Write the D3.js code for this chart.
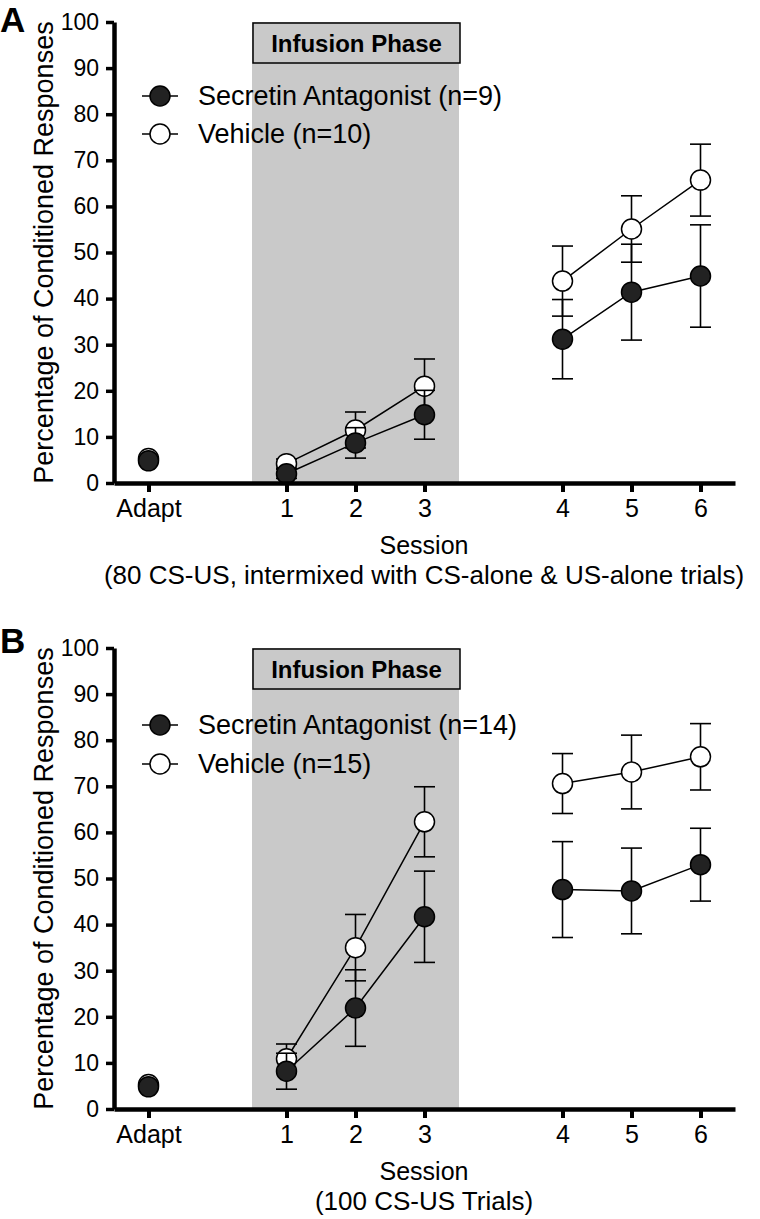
<!DOCTYPE html>
<html>
<head>
<meta charset="utf-8">
<script src="https://cdn.jsdelivr.net/npm/d3@7"></script>
<style>
  body { margin: 0; background: #fff; }
  text { font-family: "Liberation Sans", Arial, sans-serif; fill: #000; }
</style>
</head>
<body>
<div id="chart"></div>
<script>
// session categories and their spacing on the x axis
var sessions = ["Adapt", "1", "2", "3", "4", "5", "6"];
var sessionPos = [0, 2, 3, 4, 6, 7, 8];
var yTicks = [0, 10, 20, 30, 40, 50, 60, 70, 80, 90, 100];
var infusionRange = [1.5, 4.5];
// connected runs of sessions (indexes into the arrays)
var runs = [[1, 2, 3], [4, 5, 6]];

// Panel A
var antagA = [4.8, 2.0, 8.7, 14.8, 31.2, 41.4, 44.9];
var antagASem = [0, 1.0, 3.3, 5.3, 8.6, 10.4, 11.1];
var vehA = [5.3, 4.2, 11.5, 21.0, 43.8, 55.1, 65.7];
var vehASem = [0, 1.0, 3.9, 5.9, 7.6, 7.2, 7.8];

// Panel B
var antagB = [4.8, 8.2, 21.9, 41.7, 47.6, 47.3, 53.0];
var antagBSem = [0, 3.9, 8.3, 9.9, 10.4, 9.3, 7.9];
var vehB = [5.3, 10.9, 35.0, 62.3, 70.6, 73.1, 76.4];
var vehBSem = [0, 3.2, 7.2, 7.6, 6.5, 8.0, 7.2];

var W = 760, H = 1219;
var svg = d3.select("#chart").append("svg")
    .attr("width", W)
    .attr("height", H);

var x = d3.scaleLinear()
    .domain([-0.5, 8.5])
    .range([114, 735]);

var panels = [
    {letter: "A", letterY: 32, top: 22, bottom: 483, rows: [96, 134],
     antag: antagA, antagSem: antagASem, veh: vehA, vehSem: vehASem,
     nAntag: 9, nVeh: 10,
     sub: "(80 CS-US, intermixed with CS-alone & US-alone trials)"},
    {letter: "B", letterY: 653, top: 648, bottom: 1109, rows: [725, 764],
     antag: antagB, antagSem: antagBSem, veh: vehB, vehSem: vehBSem,
     nAntag: 14, nVeh: 15,
     sub: "(100 CS-US Trials)"}
];

panels.forEach(function(p) { drawPanel(p); });

function drawPanel(p) {
    var g = svg.append("g");

    var y = d3.scaleLinear()
        .domain([0, 100])
        .range([p.bottom, p.top]);

    // infusion phase shading + label box
    g.append("rect")
        .attr("x", x(infusionRange[0]))
        .attr("y", p.top)
        .attr("width", x(infusionRange[1]) - x(infusionRange[0]))
        .attr("height", p.bottom - p.top)
        .attr("fill", "#c9c9c9");

    g.append("rect")
        .attr("x", x(infusionRange[0]) + 1)
        .attr("y", p.top + 1)
        .attr("width", x(infusionRange[1]) - x(infusionRange[0]))
        .attr("height", 40)
        .attr("fill", "#c9c9c9")
        .attr("stroke", "#000")
        .attr("stroke-width", 1.5);

    g.append("text")
        .attr("x", (x(infusionRange[0]) + x(infusionRange[1])) / 2 + 1)
        .attr("y", p.top + 30)
        .attr("text-anchor", "middle")
        .style("font-size", "24px")
        .style("font-weight", "bold")
        .text("Infusion Phase");

    // series
    drawSeries(g, y, p.veh, p.vehSem, "#fff");
    drawSeries(g, y, p.antag, p.antagSem, "#222");

    // axes
    var yAxis = d3.axisLeft(y)
        .tickValues(yTicks)
        .tickSize(8)
        .tickSizeOuter(0)
        .tickPadding(7);

    var yg = g.append("g")
        .attr("transform", "translate(" + x.range()[0] + ",0)")
        .call(yAxis);
    yg.select(".domain").attr("stroke-width", 4.5);
    yg.selectAll(".tick line").attr("stroke-width", 3.5);
    yg.selectAll(".tick text").style("font-size", "23px").attr("font-family", null);

    var xAxis = d3.axisBottom(x)
        .tickValues(sessionPos)
        .tickFormat(function(d, i) { return sessions[i]; })
        .tickSize(9)
        .tickSizeOuter(0)
        .tickPadding(7);

    var xg = g.append("g")
        .attr("transform", "translate(0," + p.bottom + ")")
        .call(xAxis);
    xg.select(".domain").attr("stroke-width", 4.5);
    xg.selectAll(".tick line").attr("stroke-width", 4);
    xg.selectAll(".tick text").style("font-size", "25px").attr("font-family", null);

    // axis titles
    g.append("text")
        .attr("transform", "translate(53," + ((p.top + p.bottom) / 2) + ") rotate(-90)")
        .attr("text-anchor", "middle")
        .style("font-size", "27px")
        .text("Percentage of Conditioned Responses");

    g.append("text")
        .attr("x", 424)
        .attr("y", p.bottom + 71)
        .attr("text-anchor", "middle")
        .style("font-size", "25px")
        .text("Session");

    g.append("text")
        .attr("x", 424)
        .attr("y", p.bottom + 101)
        .attr("text-anchor", "middle")
        .style("font-size", "26px")
        .text(p.sub);

    // panel letter
    g.append("text")
        .attr("x", 0)
        .attr("y", p.letterY)
        .style("font-size", "35px")
        .style("font-weight", "bold")
        .text(p.letter);

    // legend
    var legend = [
        {label: "Secretin Antagonist (n=" + p.nAntag + ")", fill: "#222"},
        {label: "Vehicle (n=" + p.nVeh + ")", fill: "#fff"}
    ];
    legend.forEach(function(l, i) {
        var ly = p.rows[i];
        g.append("line")
            .attr("x1", 142).attr("x2", 178)
            .attr("y1", ly).attr("y2", ly)
            .attr("stroke", "#000")
            .attr("stroke-width", 1.5);
        g.append("circle")
            .attr("cx", 160).attr("cy", ly).attr("r", 10)
            .attr("fill", l.fill)
            .attr("stroke", "#000")
            .attr("stroke-width", 1.5);
        g.append("text")
            .attr("x", 198)
            .attr("y", ly + 8.5)
            .style("font-size", "27px")
            .text(l.label);
    });
}

function drawSeries(g, y, vals, sems, fill) {
    var pts = vals.map(function(v, i) {
        return {x: sessionPos[i], v: v, s: sems[i]};
    });

    // error bars
    var eb = g.append("g")
        .attr("stroke", "#000")
        .attr("stroke-width", 1.6);
    pts.filter(function(d) { return d.s > 0; }).forEach(function(d) {
        var cx = x(d.x), y1 = y(d.v + d.s), y2 = y(d.v - d.s);
        eb.append("line").attr("x1", cx).attr("x2", cx).attr("y1", y1).attr("y2", y2);
        eb.append("line").attr("x1", cx - 10.5).attr("x2", cx + 10.5).attr("y1", y1).attr("y2", y1);
        eb.append("line").attr("x1", cx - 10.5).attr("x2", cx + 10.5).attr("y1", y2).attr("y2", y2);
    });

    // connecting lines
    var line = d3.line()
        .x(function(d) { return x(d.x); })
        .y(function(d) { return y(d.v); });
    runs.forEach(function(r) {
        g.append("path")
            .datum(r.map(function(i) { return pts[i]; }))
            .attr("d", line)
            .attr("fill", "none")
            .attr("stroke", "#000")
            .attr("stroke-width", 1.5);
    });

    g.selectAll(null)
        .data(pts)
        .enter().append("circle")
        .attr("cx", function(d) { return x(d.x); })
        .attr("cy", function(d) { return y(d.v); })
        .attr("r", 10)
        .attr("fill", fill)
        .attr("stroke", "#000")
        .attr("stroke-width", 1.5);
}
</script>
</body>
</html>
